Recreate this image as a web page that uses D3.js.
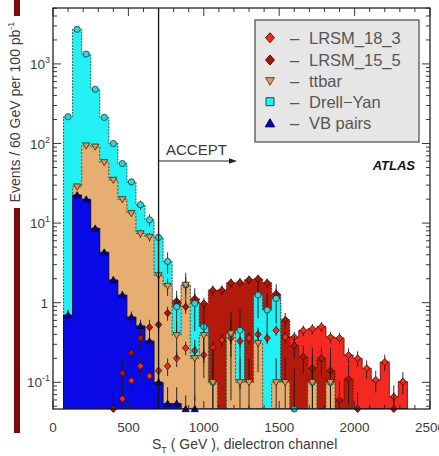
<!DOCTYPE html>
<html><head><meta charset="utf-8">
<script src="https://cdn.jsdelivr.net/npm/d3@7"></script>
<style>body{margin:0;background:#fff;} svg{display:block;font-family:"Liberation Sans",Arial,sans-serif;}</style>
</head><body>
<svg id="c" width="439" height="456"></svg>
<script>
// ---- data (GeV bin centres, 60 GeV bins) ----
const binCenters = [100,160,220,280,340,400,460,520,580,640,700,760,820,880,940,1000,1060,1120,1180,1240,1300,1360,1420,1480,1540,1600,1660,1720,1780,1840,1900,1960,2020,2080,2140,2200,2260,2320];
const binWidth = 60;
const lrsm18_3 = [0,0,0,0,0,0,0.062,0.105,0.16,0.12,0.14,0.16,0.2,0.27,0.25,0.22,0.27,0.34,0.36,0.33,0.36,0.4,0.36,0.45,0.37,0.37,0.45,0.47,0.5,0.37,0.36,0.22,0.2,0.15,0.107,0.18,0.066,0.102];
const lrsm15_5 = [0,0,0,0,0,0.04,0.13,0.235,0.36,0.49,0.53,0.74,1.05,0.89,1.13,0.98,1.44,1.44,1.78,1.8,1.95,2.0,1.78,1.3,0.61,0.29,0.21,0.15,0.2,0.14,0.06,0.11,0.04,0,0,0,0.04,0];
const drellYan = [217,2720,1330,480,213,100,56,33,17,11,6.6,3.3,0.89,1.67,0.98,0.5,0.1,0,0.41,0.45,0,1.25,0.81,1.13,0,0.04,0,0.1,0,0.1,0,0,0,0,0,0,0,0];
const ttbar = [0,28.7,94,91,58,34.8,19.9,13.3,7.4,6.7,2.2,1.62,0.39,1.67,0.2,0.39,0.1,0,0.41,0.1,0.1,0.31,0,0.1,0.1,0,0,0.1,0,0.1,0,0,0,0,0,0,0,0];
const vbPairs = [0.7,22.5,19.9,8.6,4.3,1.93,1.25,0.66,0.51,0.33,0.1,0.054,0.054,0.04,0.04,0,0,0,0,0,0,0,0,0,0,0,0,0,0,0,0,0,0,0,0,0,0,0];
const legendLabels = ["LRSM_18_3","LRSM_15_5","ttbar","Drell\u2212Yan","VB pairs"];
const xTicks = [0,500,1000,1500,2000,2500];
const yTicks = [0.1,1,10,100,1000];
const yTickLabels = [["10","-1"],["1",""],["10","1"],["10","2"],["10","3"]];
const acceptCut = 700;
// statistical weights used for error bars
const errWeights = {red:0.01, dred:0.03, dy:0.3, tt:0.1, vb:0.02};

// ---- layout ----
const M = {l:53, r:430, t:8, b:409};
const x = d3.scaleLinear().domain([0,2500]).range([M.l,M.r]);
const y = d3.scaleLog().domain([0.0462,5040]).range([M.b,M.t]).clamp(true);
const yv = v => v>0 ? y(v) : M.b;
const svg = d3.select('#c');

const series = [
  {k:'red', vals:lrsm18_3, fill:'#f42a22', stroke:'#7a0a00', dash:null, mk:'diamond', mf:'#e8301f', ms:'#4a0000'},
  {k:'dred', vals:lrsm15_5, fill:'#b31a0c', stroke:'#5a0500', dash:'1.5,1.5', mk:'diamond', mf:'#a8180a', ms:'#3a0000'},
  {k:'dy', vals:drellYan, fill:'#22f0f2', stroke:'#0f5558', dash:'2,1.2', mk:'circle', mf:'#2ad8dc', ms:'#0c3a3c'},
  {k:'tt', vals:ttbar, fill:'#e6ae70', stroke:'#5e3c12', dash:'2,1.5', mk:'tdown', mf:'#d89a58', ms:'#3a2408'},
  {k:'vb', vals:vbPairs, fill:'#0a0ae8', stroke:'#000050', dash:null, mk:'tup', mf:'#000090', ms:'#000020'}
];

svg.append('clipPath').attr('id','clip').append('rect')
  .attr('x',M.l).attr('y',M.t).attr('width',M.r-M.l).attr('height',M.b-M.t);
const gp = svg.append('g').attr('clip-path','url(#clip)');

function pts(vals){
  const p = [{e:binCenters[0]-binWidth/2, v:0}];
  binCenters.forEach((c,i)=>p.push({e:c-binWidth/2, v:vals[i]}));
  p.push({e:binCenters[binCenters.length-1]+binWidth/2, v:0});
  return p;
}
const area = d3.area().x(d=>x(d.e)).y0(M.b).y1(d=>yv(d.v)).curve(d3.curveStepAfter);
const line = d3.line().x(d=>x(d.e)).y(d=>yv(d.v)).curve(d3.curveStepAfter);

series.forEach(s=>{
  const p = pts(s.vals);
  gp.append('path').attr('d',area(p)).attr('fill',s.fill);
  gp.append('path').attr('d',line(p)).attr('fill','none').attr('stroke',s.stroke)
    .attr('stroke-width',0.9).attr('stroke-dasharray',s.dash);
});

function markerPath(type, r){
  if(type==='diamond') return `M0,${-r}L${r*0.9},0L0,${r}L${-r*0.9},0Z`;
  if(type==='tdown') return `M${-r},${-r*0.75}L${r},${-r*0.75}L0,${r*0.95}Z`;
  if(type==='tup') return `M${-r},${r*0.75}L${r},${r*0.75}L0,${-r*0.95}Z`;
  if(type==='square') return `M${-r},${-r}H${r}V${r}H${-r}Z`;
  return d3.symbol(d3.symbolCircle, Math.PI*r*r)();
}

const gm = svg.append('g');
series.forEach(s=>{
  const w = errWeights[s.k];
  s.vals.forEach((v,i)=>{
    if(!(v>0)) return;
    const cx = x(binCenters[i]);
    const e = Math.sqrt(v*w);
    gm.append('line').attr('x1',cx).attr('x2',cx)
      .attr('y1',yv(v+e)).attr('y2',yv(v-e>0?v-e:0))
      .attr('stroke','#1a1a1a').attr('stroke-width',0.9);
    gm.append('path').attr('d',markerPath(s.mk, s.mk==='circle'?3.1:3.6))
      .attr('transform',`translate(${cx},${yv(v)})`)
      .attr('fill',s.mf).attr('stroke',s.ms).attr('stroke-width',0.8);
  });
});

// ---- frame & ticks ----
svg.append('rect').attr('x',M.l).attr('y',M.t).attr('width',M.r-M.l).attr('height',M.b-M.t)
  .attr('fill','none').attr('stroke','#111').attr('stroke-width',1.2);
const gt = svg.append('g').attr('stroke','#222').attr('stroke-width',0.9);
d3.range(0,2501,100).forEach(v=>{
  const L = v%500===0 ? 8 : 4;
  const xx = x(v);
  gt.append('line').attr('x1',xx).attr('x2',xx).attr('y1',M.b).attr('y2',M.b-L);
  gt.append('line').attr('x1',xx).attr('x2',xx).attr('y1',M.t).attr('y2',M.t+L);
});
const yd = y.domain();
[-2,-1,0,1,2,3].forEach(p=>{
  for(let m=1;m<10;m++){
    const v = m*Math.pow(10,p);
    if(v<yd[0]||v>yd[1]) continue;
    const L = m===1 ? 8 : 4;
    const yy = y(v);
    gt.append('line').attr('x1',M.l).attr('x2',M.l+L).attr('y1',yy).attr('y2',yy);
    gt.append('line').attr('x1',M.r).attr('x2',M.r-L).attr('y1',yy).attr('y2',yy);
  }
});

// tick labels
const gl = svg.append('g').attr('fill','#3c3c3c').attr('font-size',13.5);
xTicks.forEach(v=>{
  gl.append('text').attr('x',x(v)).attr('y',431.5).attr('text-anchor','middle').text(v);
});
yTicks.forEach((v,i)=>{
  const [base,exp] = yTickLabels[i];
  const t = gl.append('text').attr('x',exp?M.l-3:M.l-5).attr('y',y(v)+5).attr('text-anchor','end');
  t.append('tspan').text(base);
  if(exp) t.append('tspan').attr('dy',-6).attr('font-size',9).text(exp);
});

// axis titles
const xt = svg.append('text').attr('x',152).attr('y',449).attr('font-size',14).attr('fill','#3c3c3c');
xt.append('tspan').text('S');
xt.append('tspan').attr('dy',3.5).attr('font-size',9).text('T');
xt.append('tspan').attr('dy',-3.5).text(' ( GeV ), dielectron channel');
const yt = svg.append('text').attr('transform','translate(19.5,112) rotate(-90)')
  .attr('text-anchor','middle').attr('font-size',14).attr('fill','#3c3c3c');
yt.append('tspan').text('Events / 60 GeV per 100 pb');
yt.append('tspan').attr('dy',-6).attr('font-size',9).text('-1');

// accept cut
const xc = x(acceptCut);
svg.append('line').attr('x1',xc).attr('x2',xc).attr('y1',M.t).attr('y2',M.b)
  .attr('stroke','#111').attr('stroke-width',1.3);
svg.append('text').attr('x',166).attr('y',155).attr('font-size',15).attr('fill','#3a3a3a').text('ACCEPT');
svg.append('line').attr('x1',xc).attr('x2',230).attr('y1',161).attr('y2',161).attr('stroke','#222').attr('stroke-width',1);
svg.append('path').attr('d','M237,161L229,158.3L229,163.7Z').attr('fill','#222');

// ATLAS
svg.append('text').attr('x',415).attr('y',170).attr('text-anchor','end').attr('font-size',13)
  .attr('font-weight','bold').attr('font-style','italic').attr('fill','#111').text('ATLAS');

// legend
const lg = svg.append('g');
lg.append('rect').attr('x',255).attr('y',20).attr('width',164).attr('height',122)
  .attr('fill','#e6e6e6').attr('stroke','#555').attr('stroke-width',1.3);
const rowY = [37.7,60,81,101.7,123.3];
const lgMarks = [
  {mk:'diamond', f:'#ee2a1e', s:'#5a0000', r:5},
  {mk:'diamond', f:'#a8180a', s:'#3a0000', r:5},
  {mk:'tdown', f:'#d9a060', s:'#5a3a10', r:4.5},
  {mk:'square', f:'#22f0f2', s:'#0c3a3c', r:4},
  {mk:'tup', f:'#0000c8', s:'#000030', r:4.8}
];
legendLabels.forEach((t,i)=>{
  const m = lgMarks[i];
  lg.append('path').attr('d',markerPath(m.mk,m.r)).attr('transform',`translate(270,${rowY[i]})`)
    .attr('fill',m.f).attr('stroke',m.s).attr('stroke-width',0.9);
  lg.append('text').attr('x',290).attr('y',rowY[i]+6).attr('font-size',16.5).attr('fill','#555').text('\u2013');
  lg.append('text').attr('x',309).attr('y',rowY[i]+6).attr('font-size',16.5).attr('fill','#555').text(t);
});

// decorative slide bars at left
svg.append('rect').attr('x',14).attr('y',0).attr('width',6).attr('height',16).attr('fill','#7d0a0a');
svg.append('rect').attr('x',14).attr('y',208).attr('width',6).attr('height',225).attr('fill','#7d0a0a');
</script>
</body></html>
